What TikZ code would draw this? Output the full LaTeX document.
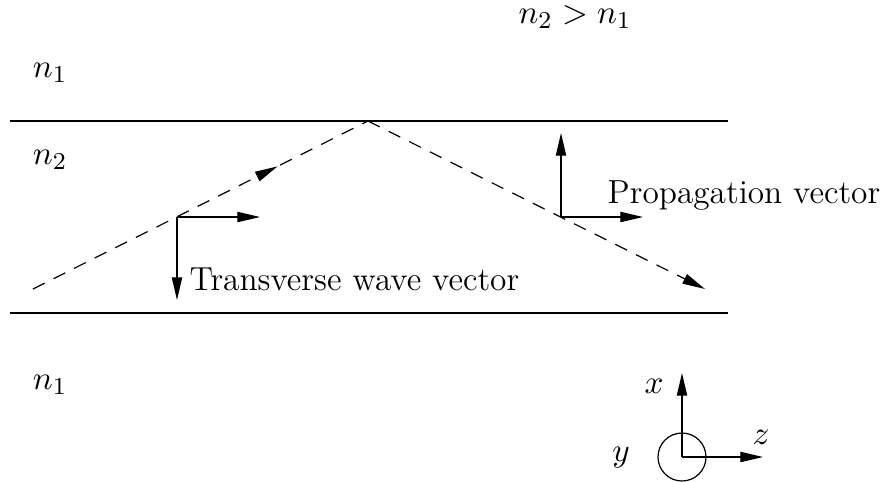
\documentclass[tikz,border=0pt]{standalone}
\usetikzlibrary{arrows.meta,decorations.markings}

\begin{document}
\begin{tikzpicture}[x=0.33pt,y=-0.33pt,line width=0.4pt,
  font=\fontsize{11}{13}\selectfont,
  vec/.style={-{Triangle[length=7.5pt,width=3.4pt]}},
  ray/.style={dash pattern=on 4.3pt off 3.3pt},
  wall/.style={line width=0.8pt}]
  \useasboundingbox (0,0) rectangle (885,481);
  % the two walls of the guide
  \draw[wall] (10,121) -- (728,121);
  \draw[wall] (10,313) -- (728,313);
  \node (nt) at (50,73) {$n_1$};
  \node (nm) at (50,160) {$n_2$};
  \node (nb) at (50,385) {$n_1$};
  \node (cond) at (575,17) {$n_2 > n_1$};
  % zig-zag ray
  \coordinate (start) at (33,289);
  \coordinate (apex) at (368,121);
  \coordinate (end) at (705,289);
  \draw[ray,postaction={decorate},decoration={markings,
    mark=at position 0.73 with {\arrow{Triangle[length=7.5pt,width=3.4pt]}}}]
    (start) -- (apex);
  \draw[ray,vec] (apex) -- (end);
  % transverse vectors
  \coordinate (tw) at (177,217);
  \draw[vec] (tw) -- (260,217);
  \draw[vec] (tw) -- (177,300);
  \node[anchor=west] (twl) at (179,279) {Transverse wave vector};
  % propagation vectors
  \coordinate (pv) at (561,217);
  \draw[vec] (pv) -- (561,133);
  \draw[vec] (pv) -- (643,217);
  \node[anchor=west] (pvl) at (597,196) {Propagation vector};
  % axes
  \coordinate (o) at (682,457);
  \draw (o) circle (24);
  \draw[vec] (o) -- (682,373);
  \draw[vec] (o) -- (763,457);
  \node (xl) at (654,386) {$x$};
  \node (zl) at (761,437) {$z$};
  \node (yl) at (621,458) {$y$};
\end{tikzpicture}
\end{document}
